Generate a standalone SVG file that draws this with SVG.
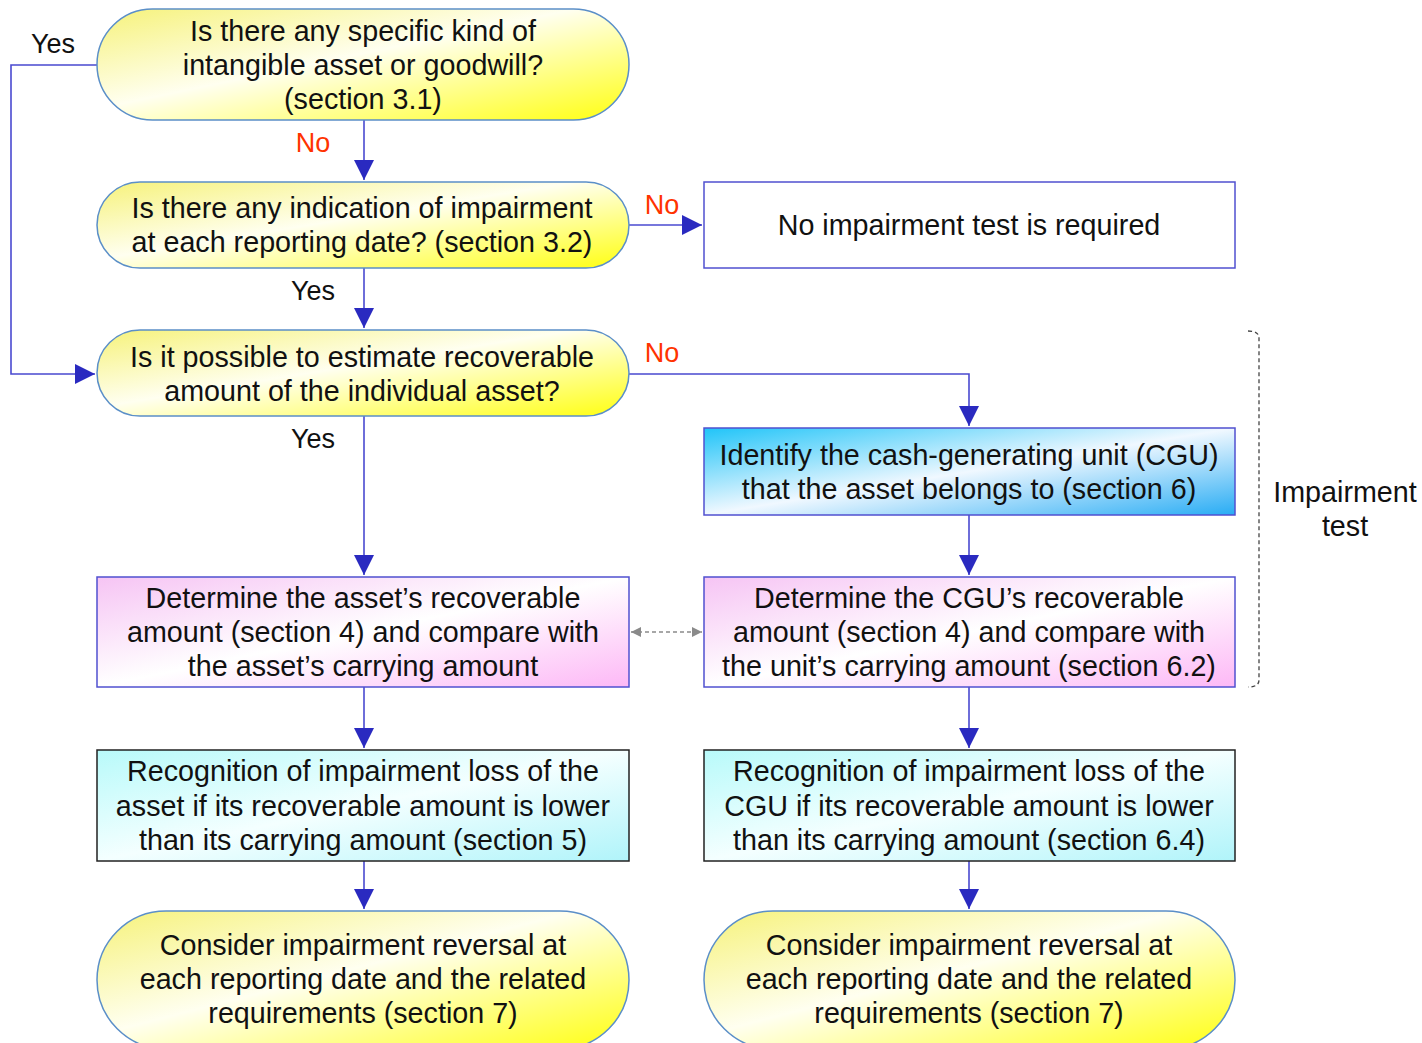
<svg xmlns="http://www.w3.org/2000/svg" width="1422" height="1043" viewBox="0 0 1422 1043">
<style>
text{font-family:"Liberation Sans",Arial,sans-serif;font-size:28.7px;fill:#111;text-anchor:middle}
.lbl{font-size:27px}
.red{fill:#ff3300}
.pill{stroke:#5b8fc8;stroke-width:1.5;fill:url(#gY)}
.box{stroke:#5050d0;stroke-width:1.5}
.blk{stroke:#222;stroke-width:1.5}
.con{fill:none;stroke:#4a4ad0;stroke-width:1.6}
</style>
<defs>
<linearGradient id="gY" x1="0" y1="0" x2="1" y2="1">
<stop offset="0" stop-color="#f6f27a"/>
<stop offset="0.45" stop-color="#fffff0"/>
<stop offset="1" stop-color="#ffff10"/>
</linearGradient>
<linearGradient id="gP" x1="0" y1="0" x2="1" y2="1">
<stop offset="0" stop-color="#f6c4f4"/>
<stop offset="0.5" stop-color="#ffffff"/>
<stop offset="1" stop-color="#fdb8f6"/>
</linearGradient>
<linearGradient id="gC" x1="0" y1="0" x2="1" y2="1">
<stop offset="0" stop-color="#b8fafa"/>
<stop offset="0.5" stop-color="#f4ffff"/>
<stop offset="1" stop-color="#b0f4fa"/>
</linearGradient>
<linearGradient id="gB" x1="0" y1="0" x2="1" y2="1">
<stop offset="0" stop-color="#20c4f8"/>
<stop offset="0.5" stop-color="#f0f8ff"/>
<stop offset="1" stop-color="#28acf4"/>
</linearGradient>
<marker id="arr" viewBox="0 0 10 10" refX="10" refY="5" markerWidth="20" markerHeight="20" markerUnits="userSpaceOnUse" orient="auto">
<path d="M0,0 L10,5 L0,10 Z" fill="#2a2ac0"/>
</marker>
<marker id="ga" viewBox="0 0 10 10" refX="10" refY="5" markerWidth="10" markerHeight="10" markerUnits="userSpaceOnUse" orient="auto-start-reverse">
<path d="M0,0 L10,5 L0,10 Z" fill="#8a8a8a"/>
</marker>
</defs>

<g id="connectors">
<path class="con" d="M364,120 V180" marker-end="url(#arr)"/>
<path class="con" d="M629,225 H702" marker-end="url(#arr)"/>
<path class="con" d="M364,268 V328" marker-end="url(#arr)"/>
<path class="con" d="M97,65 H11 V374 H95" marker-end="url(#arr)"/>
<path class="con" d="M629,374 H969 V426" marker-end="url(#arr)"/>
<path class="con" d="M364,416 V575" marker-end="url(#arr)"/>
<path class="con" d="M969,515 V575" marker-end="url(#arr)"/>
<path class="con" d="M364,687 V748" marker-end="url(#arr)"/>
<path class="con" d="M969,687 V748" marker-end="url(#arr)"/>
<path class="con" d="M364,861 V909" marker-end="url(#arr)"/>
<path class="con" d="M969,861 V909" marker-end="url(#arr)"/>
<path d="M631,632 H702" fill="none" stroke="#8a8a8a" stroke-width="1.5" stroke-dasharray="4,3" marker-start="url(#ga)" marker-end="url(#ga)"/>
<text class="lbl" x="53" y="53">Yes</text>
<text class="lbl red" x="313" y="152">No</text>
<text class="lbl red" x="662" y="214">No</text>
<text class="lbl" x="313" y="300">Yes</text>
<text class="lbl red" x="662" y="362">No</text>
<text class="lbl" x="313" y="448">Yes</text>
</g>

<g id="n1">
<rect class="pill" x="97" y="9" width="532" height="111" rx="55.5"/>
<text x="363" y="41">Is there any specific kind of</text>
<text x="363" y="75">intangible asset or goodwill?</text>
<text x="363" y="109">(section 3.1)</text>
</g>
<g id="n2">
<rect class="pill" x="97" y="182" width="532" height="86" rx="43"/>
<text x="362" y="218">Is there any indication of impairment</text>
<text x="362" y="252">at each reporting date? (section 3.2)</text>
</g>
<g id="n3">
<rect class="box" x="704" y="182" width="531" height="86" fill="#fff"/>
<text x="969" y="235">No impairment test is required</text>
</g>
<g id="n4">
<rect class="pill" x="97" y="330" width="532" height="86" rx="43"/>
<text x="362" y="367">Is it possible to estimate recoverable</text>
<text x="362" y="401">amount of the individual asset?</text>
</g>
<g id="n5">
<rect class="box" x="704" y="428" width="531" height="87" fill="url(#gB)"/>
<text x="969" y="465">Identify the cash-generating unit (CGU)</text>
<text x="969" y="499">that the asset belongs to (section 6)</text>
</g>
<g id="n6">
<rect class="box" x="97" y="577" width="532" height="110" fill="url(#gP)"/>
<text x="363" y="608">Determine the asset’s recoverable</text>
<text x="363" y="642">amount (section 4) and compare with</text>
<text x="363" y="676">the asset’s carrying amount</text>
</g>
<g id="n7">
<rect class="box" x="704" y="577" width="531" height="110" fill="url(#gP)"/>
<text x="969" y="608">Determine the CGU’s recoverable</text>
<text x="969" y="642">amount (section 4) and compare with</text>
<text x="969" y="676">the unit’s carrying amount (section 6.2)</text>
</g>
<g id="n8">
<rect class="blk" x="97" y="750" width="532" height="111" fill="url(#gC)"/>
<text x="363" y="781">Recognition of impairment loss of the</text>
<text x="363" y="816">asset if its recoverable amount is lower</text>
<text x="363" y="850">than its carrying amount (section 5)</text>
</g>
<g id="n9">
<rect class="blk" x="704" y="750" width="531" height="111" fill="url(#gC)"/>
<text x="969" y="781">Recognition of impairment loss of the</text>
<text x="969" y="816">CGU if its recoverable amount is lower</text>
<text x="969" y="850">than its carrying amount (section 6.4)</text>
</g>
<g id="n10">
<rect class="pill" x="97" y="911" width="532" height="138" rx="69"/>
<text x="363" y="955">Consider impairment reversal at</text>
<text x="363" y="989">each reporting date and the related</text>
<text x="363" y="1023">requirements (section 7)</text>
</g>
<g id="n11">
<rect class="pill" x="704" y="911" width="531" height="138" rx="69"/>
<text x="969" y="955">Consider impairment reversal at</text>
<text x="969" y="989">each reporting date and the related</text>
<text x="969" y="1023">requirements (section 7)</text>
</g>
<g id="bracket">
<path d="M1248,331 Q1259,331 1259,338 V680 Q1259,687 1248,687" fill="none" stroke="#444" stroke-width="1.3" stroke-dasharray="4,3"/>
<text x="1345" y="502">Impairment</text>
<text x="1345" y="536">test</text>
</g>
</svg>
